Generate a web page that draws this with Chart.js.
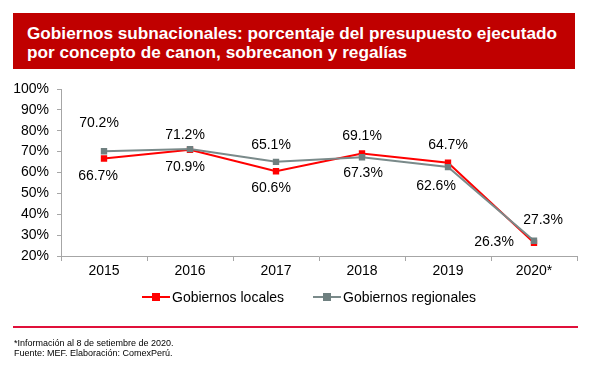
<!DOCTYPE html>
<html>
<head>
<meta charset="utf-8">
<script src="https://cdn.jsdelivr.net/npm/chart.js@4.4.0/dist/chart.umd.min.js"></script>
<style>
  body { margin: 0; background: #fff; font-family: "Liberation Sans", Arial, sans-serif; }
  .wrap { position: relative; width: 591px; height: 369px; overflow: hidden; }
  canvas { position: absolute; left: 0; top: 0; }
  .title-bar {
    position: absolute; left: 13px; top: 13px; width: 562px; height: 56px;
    background: #c00000;
  }
  .title {
    position: absolute; left: 27px; top: 24px;
    color: #fff; font-weight: bold; font-size: 17.2px; line-height: 19px;
  }
  .legend {
    position: absolute; top: 288px; left: 0; height: 18px;
    font-size: 14px; line-height: 18px; color: #000;
  }
  .legend .item { position: absolute; white-space: nowrap; top: 0; }
  .legend .swatch { position: absolute; top: 8px; width: 28px; height: 2px; }
  .legend .swatch i { position: absolute; left: 10px; top: -3px; width: 8px; height: 8px; }
  .rule { position: absolute; left: 13px; top: 326px; width: 565px; height: 2px; background: #e0103a; }
  .note { position: absolute; left: 14px; font-size: 9px; color: #000; line-height: 11px; }
</style>
</head>
<body>
<div class="wrap">
  <canvas id="chart" width="591" height="369"></canvas>
  <div class="title-bar"></div>
  <div class="title">Gobiernos subnacionales: porcentaje del presupuesto ejecutado<br>por concepto de canon, sobrecanon y regalías</div>
  <div class="legend">
    <div class="item" style="left:142px">
      <span class="swatch" style="left:0;background:#ff0000"><i style="background:#ff0000"></i></span>
      <span style="position:absolute;left:30px">Gobiernos locales</span>
    </div>
    <div class="item" style="left:313px">
      <span class="swatch" style="left:0;background:#7a8a8a"><i style="background:#6f8080"></i></span>
      <span style="position:absolute;left:30px">Gobiernos regionales</span>
    </div>
  </div>
  <div class="rule"></div>
  <div class="note" style="top:338px">*Información al 8 de setiembre de 2020.</div>
  <div class="note" style="top:348px">Fuente: MEF. Elaboración: ComexPerú.</div>
</div>
<script>
const years = ["2015", "2016", "2017", "2018", "2019", "2020*"];
const locales = [66.7, 70.9, 60.6, 69.1, 64.7, 26.3];
const regionales = [70.2, 71.2, 65.1, 67.3, 62.6, 27.3];
const yTicks = [20, 30, 40, 50, 60, 70, 80, 90, 100];

// label offsets from each point (dx, dy)
const offLocales = [[-6, 18], [-5, 17], [-5, 17], [0, -17], [0, -18], [-40, -1]];
const offRegionales = [[-5, -28], [-5, -14], [-5, -17], [1, 16], [-12, 19], [9, -21]];

const pointLabels = {
  id: "pointLabels",
  afterDatasetsDraw(chart) {
    const ctx = chart.ctx;
    ctx.save();
    ctx.font = "14px 'Liberation Sans', Arial, sans-serif";
    ctx.fillStyle = "#000";
    ctx.textAlign = "center";
    ctx.textBaseline = "middle";
    chart.data.datasets.forEach((ds, i) => {
      const meta = chart.getDatasetMeta(i);
      meta.data.forEach((pt, j) => {
        const off = ds.labelOffsets[j];
        ctx.fillText(ds.data[j].toFixed(1) + "%", pt.x + off[0], pt.y + off[1]);
      });
    });
    ctx.restore();
  }
};

new Chart(document.getElementById("chart"), {
  type: "line",
  data: {
    labels: years,
    datasets: [
      {
        label: "Gobiernos locales",
        data: locales,
        labelOffsets: offLocales,
        borderColor: "#ff0000",
        backgroundColor: "#ff0000",
        borderWidth: 2,
        pointStyle: "rect",
        pointRadius: 4.5,
        pointBorderWidth: 0,
        order: 1
      },
      {
        label: "Gobiernos regionales",
        data: regionales,
        labelOffsets: offRegionales,
        borderColor: "#7a8a8a",
        backgroundColor: "#6f8080",
        borderWidth: 2,
        pointStyle: "rect",
        pointRadius: 4.5,
        pointBorderWidth: 0,
        order: 0
      }
    ]
  },
  options: {
    responsive: false,
    animation: false,
    layout: { padding: { top: 89, left: 0, right: 14, bottom: 0 } },
    plugins: { legend: { display: false }, tooltip: { enabled: false } },
    scales: {
      x: {
        offset: true,
        grid: { offset: true, drawOnChartArea: false, color: "#a6a6a6", tickLength: 5 },
        border: { color: "#a6a6a6", width: 1 },
        ticks: { color: "#000", padding: 2, font: { size: 14, family: "'Liberation Sans', Arial, sans-serif" } },
        afterFit(axis) { axis.height = 113; }
      },
      y: {
        min: 20,
        max: 100,
        afterBuildTicks(axis) { axis.ticks = yTicks.map((v) => ({ value: v })); },
        grid: { drawOnChartArea: false, color: "#a6a6a6", tickLength: 4 },
        border: { color: "#a6a6a6", width: 1 },
        ticks: {
          color: "#000",
          padding: 8,
          font: { size: 14, family: "'Liberation Sans', Arial, sans-serif" },
          callback: (v) => v + "%"
        },
        afterFit(axis) { axis.width = 61; }
      }
    }
  },
  plugins: [pointLabels]
});
</script>
</body>
</html>
